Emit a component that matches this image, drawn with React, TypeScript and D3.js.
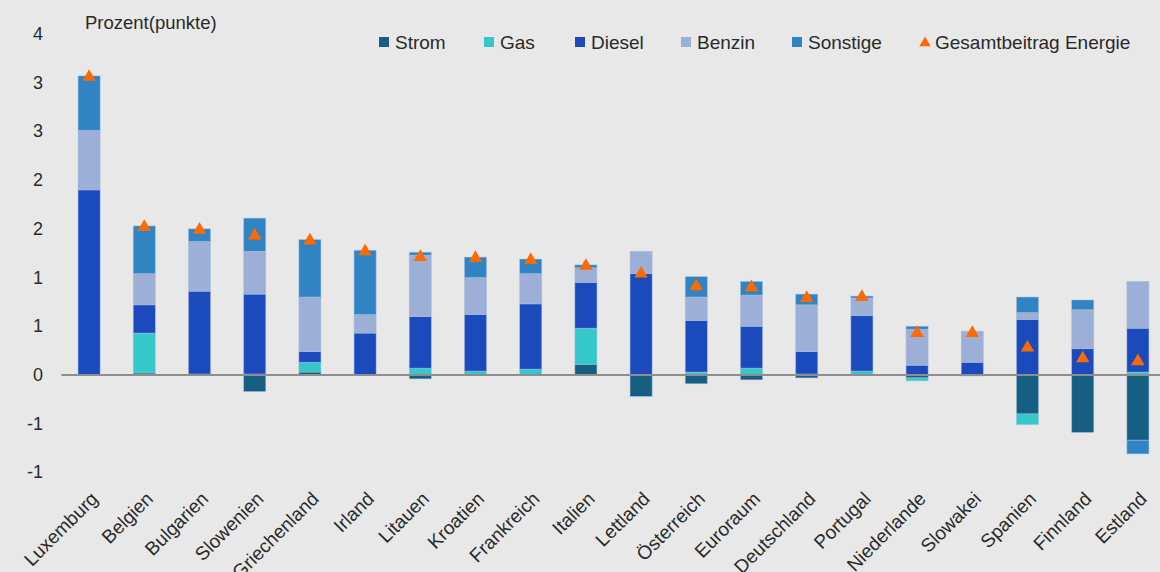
import React from "react";
import * as d3 from "d3";

// Beitrag der Energiekomponenten zur Inflation, Prozent(punkte)
const categories = [
  "Luxemburg", "Belgien", "Bulgarien", "Slowenien", "Griechenland", "Irland",
  "Litauen", "Kroatien", "Frankreich", "Italien", "Lettland", "Österreich",
  "Euroraum", "Deutschland", "Portugal", "Niederlande", "Slowakei", "Spanien",
  "Finnland", "Estland",
];

const strom = [0, 0.02, 0, -0.17, 0.03, 0, -0.04, 0, 0, 0.11, -0.22, -0.09, -0.05, -0.03, 0, -0.03, -0.01, -0.4, -0.59, -0.67];
const gas = [0, 0.41, 0.01, 0.01, 0.1, 0, 0.07, 0.04, 0.06, 0.37, 0, 0.03, 0.07, 0.01, 0.04, -0.03, 0, -0.11, 0, 0.03];
const diesel = [1.9, 0.29, 0.85, 0.82, 0.11, 0.43, 0.53, 0.58, 0.67, 0.47, 1.04, 0.53, 0.43, 0.23, 0.57, 0.1, 0.13, 0.57, 0.27, 0.45];
const benzin = [0.61, 0.32, 0.51, 0.44, 0.56, 0.19, 0.63, 0.38, 0.31, 0.15, 0.23, 0.24, 0.32, 0.48, 0.18, 0.37, 0.32, 0.07, 0.4, 0.48];
const sonstige = [0.56, 0.49, 0.13, 0.34, 0.59, 0.66, 0.03, 0.21, 0.15, 0.03, 0, 0.21, 0.14, 0.11, 0.02, 0.03, 0, 0.16, 0.1, -0.14];
const gesamt = [3.07, 1.53, 1.5, 1.44, 1.39, 1.28, 1.22, 1.21, 1.19, 1.13, 1.05, 0.92, 0.91, 0.8, 0.81, 0.44, 0.44, 0.29, 0.18, 0.15];

const seriesNames = ["Strom", "Gas", "Diesel", "Benzin", "Sonstige"];
const seriesValues = [strom, gas, diesel, benzin, sonstige];
const seriesColors = ["#175f82", "#34c8cb", "#1a4abb", "#9cafd7", "#3184c4"];

const tickValues = [-1, -0.5, 0, 0.5, 1, 1.5, 2, 2.5, 3, 3.5];
const tickLabels = ["-1", "-1", "0", "1", "1", "2", "2", "3", "3", "4"];

const W = 1160;
const H = 572;
const FONT = "'Liberation Sans', Arial, sans-serif";
const TEXT = "#2a2a2a";

export default function App() {
  const x = d3
    .scaleBand<string>()
    .domain(categories)
    .range([61.5, 1165.5])
    .paddingInner(0.6)
    .paddingOuter(0.3);
  const y = d3.scaleLinear().domain([-1, 3.5]).range([472.4, 34]);

  const rows = categories.map((c, i) => {
    const r: Record<string, any> = { cat: c };
    seriesNames.forEach((s, k) => (r[s] = seriesValues[k][i]));
    return r;
  });
  const stacked = d3
    .stack<any>()
    .keys(seriesNames)
    .offset(d3.stackOffsetDiverging)(rows);

  const tri = d3.symbol().type(d3.symbolTriangle).size(78);
  const triLegend = d3.symbol().type(d3.symbolTriangle).size(56);

  const legendItems = [
    { name: "Strom", x: 379, color: seriesColors[0] },
    { name: "Gas", x: 484, color: seriesColors[1] },
    { name: "Diesel", x: 575, color: seriesColors[2] },
    { name: "Benzin", x: 681, color: seriesColors[3] },
    { name: "Sonstige", x: 792, color: seriesColors[4] },
  ];

  return (
    <svg
      width={W}
      height={H}
      style={{ position: "absolute", left: 0, top: 0, background: "#e8e8e8" }}
      fontFamily={FONT}
    >
      <rect x={0} y={0} width={W} height={H} fill="#e8e8e8" />

      {/* Y-Achse: Beschriftung */}
      {tickValues.map((v, i) => (
        <text
          key={i}
          x={43}
          y={y(v)}
          textAnchor="end"
          dominantBaseline="central"
          fontSize={18}
          fill={TEXT}
        >
          {tickLabels[i]}
        </text>
      ))}
      <text x={85} y={29} fontSize={18.5} fill={TEXT}>
        Prozent(punkte)
      </text>

      {/* gestapelte Balken */}
      {stacked.map((layer, k) => (
        <g key={layer.key} fill={seriesColors[k]}>
          {layer.map((d, i) => {
            const h = Math.abs(y(d[0]) - y(d[1]));
            if (h < 0.01) return null;
            return (
              <rect
                key={i}
                x={x(categories[i])!}
                y={Math.min(y(d[0]), y(d[1]))}
                width={x.bandwidth()}
                height={h}
                stroke="#a9c0e0"
                strokeOpacity={0.6}
                strokeWidth={0.8}
              />
            );
          })}
        </g>
      ))}

      {/* Nulllinie */}
      <line x1={61.5} x2={W} y1={y(0)} y2={y(0)} stroke="#8e8e8e" strokeWidth={2} />

      {/* Gesamtbeitrag */}
      {gesamt.map((v, i) => (
        <path
          key={i}
          d={tri()!}
          transform={`translate(${x(categories[i])! + x.bandwidth() / 2},${y(v) + 1})`}
          fill="#ff6a00"
        />
      ))}

      {/* Kategorien */}
      {categories.map((c) => (
        <text
          key={c}
          transform={`translate(${x(c)! + x.bandwidth() / 2 + 10},500) rotate(-45)`}
          textAnchor="end"
          fontSize={19}
          fill={TEXT}
        >
          {c}
        </text>
      ))}

      {/* Legende */}
      {legendItems.map((it) => (
        <g key={it.name}>
          <rect x={it.x} y={37} width={10} height={10} fill={it.color} />
          <text x={it.x + 16} y={42} dominantBaseline="central" fontSize={19} fill={TEXT}>
            {it.name}
          </text>
        </g>
      ))}
      <path d={triLegend()!} transform="translate(925,43)" fill="#ff6a00" />
      <text x={935} y={42} dominantBaseline="central" fontSize={19} fill={TEXT}>
        Gesamtbeitrag Energie
      </text>
    </svg>
  );
}
